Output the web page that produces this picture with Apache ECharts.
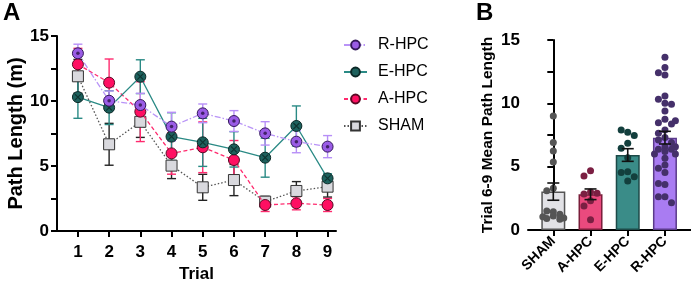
<!DOCTYPE html>
<html>
<head>
<meta charset="utf-8">
<script src="https://cdn.jsdelivr.net/npm/echarts@6/dist/echarts.min.js"></script>
<style>
  html, body { margin: 0; padding: 0; background: #fff; }
  #chart { width: 691px; height: 282px; }
</style>
</head>
<body>
<div id="chart"></div>
<script>
// panel A: path length per trial (mean, SEM)
const trials = [1, 2, 3, 4, 5, 6, 7, 8, 9];
const rhpcMean = [13.67, 10.02, 9.69, 8.03, 9.05, 8.46, 7.51, 6.87, 6.49];
const rhpcSem  = [0.7, 0.75, 0.9, 1.1, 0.72, 0.8, 0.9, 0.85, 0.85];
const ehpcMean = [10.3, 9.49, 11.87, 7.26, 6.82, 6.28, 5.64, 8.08, 4.05];
const ehpcSem  = [1.63, 1.3, 1.3, 1.84, 1.85, 1.36, 1.5, 1.54, 0.35];
const ahpcMean = [12.82, 11.41, 9.18, 5.97, 6.44, 5.46, 2.0, 2.13, 2.0];
const ahpcSem  = [1.23, 1.82, 2.3, 1.6, 1.95, 1.5, 0.5, 0.5, 0.5];
const shamMean = [11.9, 6.67, 8.4, 5.03, 3.36, 3.92, 2.26, 3.08, 3.41];
const shamSem  = [1.3, 1.61, 1.2, 1.0, 1.0, 1.2, 0.4, 0.72, 0.8];

// panel B: trial 6-9 mean path length
const groups = ["SHAM", "A-HPC", "E-HPC", "R-HPC"];
const barMean = [3.03, 2.82, 5.92, 7.29];
const barSem  = [0.68, 0.42, 0.5, 0.5];
const shamPts = [9.0, 6.9, 6.24, 5.37, 3.29, 3.1, 1.45, 1.5, 1.25, 1.05, 1.1, 0.95, 0.9, 0.85];
const ahpcPts = [4.68, 4.26, 3.0, 2.85, 2.9, 2.3, 1.9, 0.8];
const ehpcPts = [7.71, 7.89, 7.47, 6.84, 6.45, 5.7, 4.6, 4.53, 4.2, 3.87];
const rhpcPts = [13.63, 12.82, 12.42, 12.24, 10.58, 10.32, 10.0, 9.92, 9.39, 8.74, 8.47, 8.37,
  8.63, 7.89, 7.63, 7.3, 7.1, 6.9, 6.58, 6.37, 6.58, 6.37, 6.2, 6.0, 5.66, 6.0, 5.13, 4.87,
  4.53, 3.6, 3.68, 2.63, 2.63, 2.16];

const FONT = "Liberation Sans";

// error bars: value = [x, mean, sem]
function errorBars(color, halfCap, width) {
  return function (params, api) {
    const x = api.value(0), y = api.value(1), e = api.value(2);
    const top = api.coord([x, y + e]);
    const bot = api.coord([x, y - e]);
    const st = { stroke: color, lineWidth: width };
    return {
      type: "group",
      children: [
        { type: "line", shape: { x1: top[0], y1: top[1], x2: bot[0], y2: bot[1] }, style: st },
        { type: "line", shape: { x1: top[0] - halfCap, y1: top[1], x2: top[0] + halfCap, y2: top[1] }, style: st },
        { type: "line", shape: { x1: bot[0] - halfCap, y1: bot[1], x2: bot[0] + halfCap, y2: bot[1] }, style: st }
      ]
    };
  };
}

// simple deterministic swarm so the dots spread sideways instead of stacking
function swarm(values, catIndex) {
  const pxPerUnitY = 12.67, pxPerCat = 37, gap = 6.5;
  const placed = [];
  const steps = [0, -1, 1, -1.6, 1.6];
  return values.map(v => {
    const y = v * pxPerUnitY;
    let best = 0, bestD = -1;
    for (const s of steps) {
      const x = s * gap;
      let d = Infinity;
      placed.forEach(p => { d = Math.min(d, Math.hypot(p[0] - x, p[1] - y)); });
      if (d >= gap) { best = x; bestD = d; break; }
      if (d > bestD) { bestD = d; best = x; }
    }
    placed.push([best, y]);
    return [catIndex + best / pxPerCat, v];
  });
}

const lineGroups = [
  { name: "SHAM", mean: shamMean, sem: shamSem, symbol: "rect", fill: "#d9d9de", border: "#333",
    line: "#555", type: [1.5, 2], err: "#222", z: 2 },
  { name: "A-HPC", mean: ahpcMean, sem: ahpcSem, symbol: "circle", fill: "#ff0f62", border: "#5a0a24",
    line: "#ff2a6e", type: [4, 2.5], err: "#ff2a6e", z: 3 },
  { name: "E-HPC", mean: ehpcMean, sem: ehpcSem, symbol: "circle", fill: "#1d615d", border: "#0b2826",
    line: "#2a8a85", type: "solid", err: "#2a8a85", z: 4 },
  { name: "R-HPC", mean: rhpcMean, sem: rhpcSem, symbol: "circle", fill: "#9a5ce6", border: "#33195a",
    line: "#b994f7", type: [6, 2, 1.5, 2], err: "#b78ff7", z: 6 }
];

const series = [];
lineGroups.forEach(g => {
  series.push({
    type: "custom", xAxisIndex: 0, yAxisIndex: 0, z: 1, silent: true,
    renderItem: errorBars(g.err, 4.5, 1.4),
    data: trials.map((t, i) => [t, g.mean[i], g.sem[i]])
  });
});
lineGroups.forEach(g => {
  series.push({
    name: g.name, type: "line", xAxisIndex: 0, yAxisIndex: 0, z: g.z,
    symbol: g.symbol, symbolSize: 11, showAllSymbol: true,
    lineStyle: { color: g.line, width: 1.3, type: g.type },
    itemStyle: { color: g.fill, borderColor: g.border, borderWidth: 1 },
    data: trials.map((t, i) => [t, g.mean[i]])
  });
});
// marker decorations: dot for R-HPC, cross for E-HPC
series.push({
  name: "rdot", type: "scatter", xAxisIndex: 0, yAxisIndex: 0, z: 7, silent: true,
  symbol: "circle", symbolSize: 3.5, itemStyle: { color: "#2a1448" },
  data: trials.map((t, i) => [t, rhpcMean[i]])
});
series.push({
  name: "ecross", type: "scatter", xAxisIndex: 0, yAxisIndex: 0, z: 5, silent: true,
  symbol: "path://M0,0L10,10M10,0L0,10", symbolSize: 6,
  itemStyle: { color: "none", borderColor: "#0b2826", borderWidth: 1.2 },
  data: trials.map((t, i) => [t, ehpcMean[i]])
});

// panel B
const barFill = ["#e2e2e6", "#ea4a7e", "#3a8c88", "#a97cf2"];
const barBorder = ["#555", "#7a1e3a", "#1d4a48", "#5b3a8a"];
const dotColor = ["#555555", "#7b1f42", "#133f3d", "#45306a"];
const ptLists = [shamPts, ahpcPts, ehpcPts, rhpcPts];

series.push({
  type: "bar", xAxisIndex: 1, yAxisIndex: 1, barWidth: 24, z: 2,
  data: groups.map((g, i) => ({
    value: [i, barMean[i]],
    itemStyle: { color: barFill[i], borderColor: barBorder[i], borderWidth: 1.5 }
  }))
});
ptLists.forEach((pts, i) => {
  series.push({
    type: "scatter", xAxisIndex: 1, yAxisIndex: 1, z: 3, silent: true,
    symbol: "circle", symbolSize: 7, itemStyle: { color: dotColor[i], opacity: 1 },
    data: swarm(pts, i)
  });
});
series.push({
  type: "custom", xAxisIndex: 1, yAxisIndex: 1, z: 4, silent: true,
  renderItem: errorBars("#111", 6, 1.6),
  data: groups.map((g, i) => [i, barMean[i], barSem[i]])
});

const boldLabel = { color: "#000", fontFamily: FONT, fontWeight: "bold", fontSize: 17 };
const axisLine = { show: true, lineStyle: { color: "#000", width: 2 } };
const tick = { show: true, inside: false, length: 6, lineStyle: { color: "#000", width: 2 } };
const minor = { show: true, splitNumber: 2, length: 6, lineStyle: { color: "#000", width: 2 } };

const option = {
  animation: false,
  backgroundColor: "#fff",
  title: [
    { text: "A", left: 3, top: 1, padding: 0, textStyle: { fontFamily: FONT, fontWeight: "bold", fontSize: 24, color: "#000" } },
    { text: "B", left: 476, top: 1, padding: 0, textStyle: { fontFamily: FONT, fontWeight: "bold", fontSize: 24, color: "#000" } }
  ],
  legend: {
    data: ["R-HPC", "E-HPC", "A-HPC", "SHAM"],
    orient: "vertical", left: 343, top: 37, padding: 0,
    itemWidth: 23, itemHeight: 11, itemGap: 11,
    textStyle: { fontFamily: FONT, fontSize: 16, color: "#000", padding: [0, 0, 0, 6] }
  },
  grid: [
    { left: 57, top: 36, width: 279, height: 195, outerBoundsMode: "none" },
    { left: 528, top: 40, width: 163, height: 190, outerBoundsMode: "none" }
  ],
  xAxis: [
    {
      type: "value", gridIndex: 0, min: 0.33, max: 9.27,
      name: "Trial", nameLocation: "middle", nameGap: 30,
      nameTextStyle: { fontFamily: FONT, fontWeight: "bold", fontSize: 17, color: "#000" },
      axisLine: axisLine,
      axisTick: Object.assign({}, tick, { customValues: trials }),
      axisLabel: Object.assign({}, boldLabel, { customValues: trials, margin: 13 }),
      splitLine: { show: false }
    },
    {
      type: "value", gridIndex: 1, min: -0.68, max: 3.7,
      axisLine: axisLine,
      axisTick: Object.assign({}, tick, { customValues: [0, 1, 2, 3] }),
      axisLabel: Object.assign({}, boldLabel, {
        customValues: [0, 1, 2, 3], rotate: 45, fontSize: 14, margin: 9,
        formatter: v => groups[Math.round(v)]
      }),
      splitLine: { show: false }
    }
  ],
  yAxis: [
    {
      type: "value", gridIndex: 0, min: 0, max: 15, interval: 5,
      name: "Path Length (m)", nameLocation: "middle", nameGap: 29,
      nameTextStyle: { fontFamily: FONT, fontWeight: "bold", fontSize: 20, color: "#000" },
      axisLine: axisLine, axisTick: tick, minorTick: minor,
      axisLabel: Object.assign({}, boldLabel, { margin: 8 }),
      splitLine: { show: false }
    },
    {
      type: "value", gridIndex: 1, min: 0, max: 15, interval: 5,
      name: "Trial 6-9 Mean Path Length", nameLocation: "middle", nameGap: 32,
      nameTextStyle: { fontFamily: FONT, fontWeight: "bold", fontSize: 15.5, color: "#000" },
      axisLine: axisLine, axisTick: tick, minorTick: minor,
      axisLabel: Object.assign({}, boldLabel, { margin: 8 }),
      splitLine: { show: false }
    }
  ],
  series: series
};

const chart = echarts.init(document.getElementById("chart"));
chart.setOption(option);
</script>
</body>
</html>
